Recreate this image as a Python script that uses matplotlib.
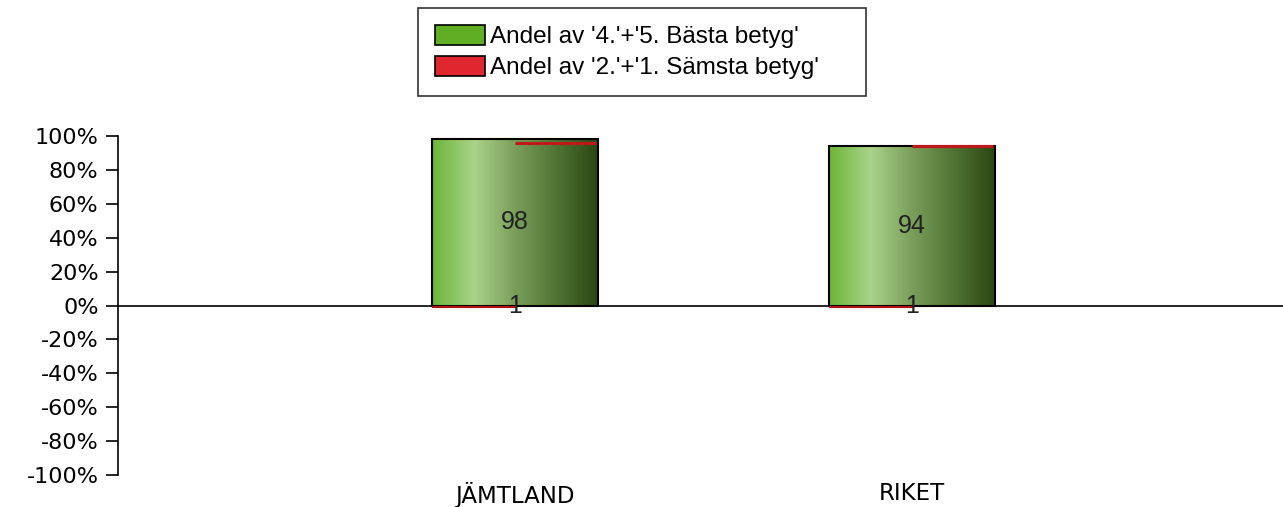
import numpy as np
import matplotlib
matplotlib.use("Agg")
import matplotlib.pyplot as plt
from matplotlib.colors import LinearSegmentedColormap
from matplotlib.patches import Patch

# data
omraden = ["JÄMTLAND", "RIKET"]
basta = [98, 94]        # Andel 4+5
samsta = [1, 1]         # Andel 2+1
samsta_topp = [96, 94]  # red mark near the bar top
yticks = [100, 80, 60, 40, 20, 0, -20, -40, -60, -80, -100]

fig = plt.figure(figsize=(12.83, 5.07), dpi=100)
ax = fig.add_axes([118 / 1283, 32 / 507, 1 - 118 / 1283, (475 - 136) / 507])

x = np.arange(1, len(omraden) + 1)
bw = 0.42

gron = LinearSegmentedColormap.from_list(
    "gron", ["#6cb535", "#a9d38a", "#7a9e5a", "#4e7433", "#2a4513"])
grad = np.linspace(0, 1, 256).reshape(1, -1)

for xi, b in zip(x, basta):
    bar = ax.bar(xi, b, width=bw, color="none", edgecolor="black", lw=1.5, zorder=3)[0]
    im = ax.imshow(grad, cmap=gron, aspect="auto", zorder=2,
                   extent=[xi - bw / 2, xi + bw / 2, 0, b])
    im.set_clip_path(bar)
    ax.text(xi, b / 2, str(b), ha="center", va="center", fontsize=18,
            family="Liberation Sans", color="#222222", zorder=5)

for xi, s, t in zip(x, samsta, samsta_topp):
    ax.bar(xi - bw / 4, -s, width=bw / 2, color="#d42020", edgecolor="#b01010", lw=0.8, zorder=4)
    ax.hlines(t, xi, xi + bw / 2 - 0.005, color="#c01818", lw=2.2, zorder=4)
    ax.text(xi, -0.5, str(s), ha="center", va="center", fontsize=18,
            family="Liberation Sans", color="#222222", zorder=5)

ax.axhline(0, color="black", lw=1.2, zorder=3)
ax.set_ylim(-100, 100)
ax.set_xlim(0, (1283 - 118) / 397)
ax.set_yticks(yticks)
ax.set_yticklabels([f"{v}%" for v in yticks], fontsize=16, family="DejaVu Sans")
ax.set_xticks(x)
ax.set_xticklabels(omraden, fontsize=16.5, family="DejaVu Sans")
ax.tick_params(axis="y", length=9, width=1.2, pad=5)
ax.tick_params(axis="x", length=0, pad=5)
for s in ["top", "right", "bottom"]:
    ax.spines[s].set_visible(False)
ax.spines["left"].set_linewidth(1.2)

handles = [Patch(facecolor="#5fae23", edgecolor="black", lw=1.2),
           Patch(facecolor="#e0262e", edgecolor="black", lw=1.2)]
labels = ["Andel av '4.'+'5. Bästa betyg'", "Andel av '2.'+'1. Sämsta betyg'"]
leg = fig.legend(handles, labels, loc="upper left",
                 bbox_to_anchor=(418 / 1283, 1 - 8 / 507, 448 / 1283, 0),
                 mode="expand", frameon=True, fancybox=False, edgecolor="black",
                 handlelength=2.05, handleheight=0.86, borderpad=0.7, labelspacing=0.32,
                 handletextpad=0.2, borderaxespad=0,
                 prop={"family": "Liberation Sans", "size": 17.5})
leg.get_frame().set_linewidth(1.2)

fig.savefig("out.png", dpi=100)
